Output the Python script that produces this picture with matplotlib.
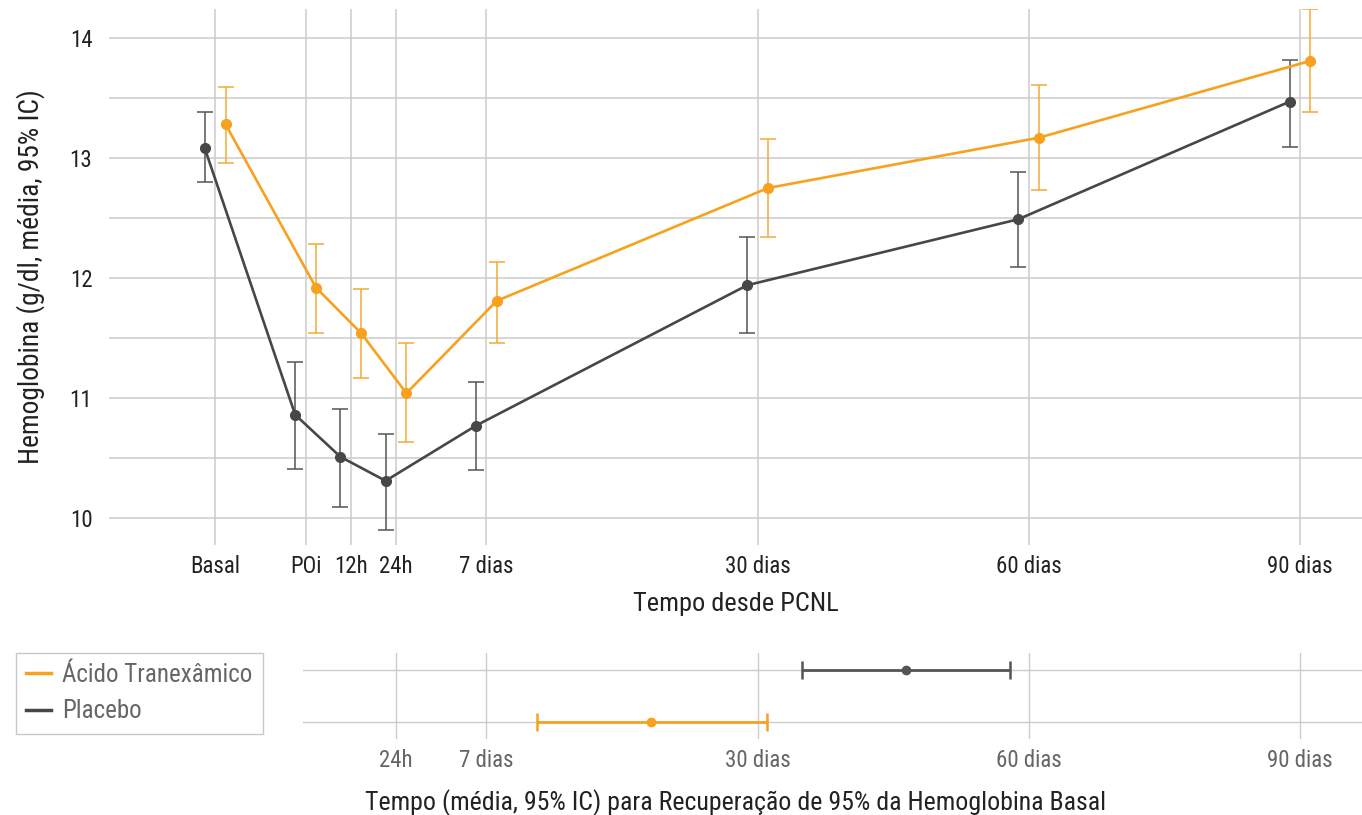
import numpy as np
import matplotlib
matplotlib.use("Agg")
import matplotlib.pyplot as plt
from matplotlib.lines import Line2D
from matplotlib import font_manager

names = {f.name for f in font_manager.fontManager.ttflist}
fam = [f for f in ["Liberation Sans Narrow", "Roboto Condensed", "Roboto", "DejaVu Sans"] if f in names]
plt.rcParams['font.family'] = fam

# ---- data ----
categories = ["Basal", "POi", "12h", "24h", "7 dias", "30 dias", "60 dias", "90 dias"]
cat_pos = [-2, -1, -0.5, 0, 1, 4, 7, 10]

placebo_mean = [13.08, 10.86, 10.51, 10.31, 10.77, 11.94, 12.49, 13.47]
placebo_lo = [12.80, 10.41, 10.09, 9.90, 10.40, 11.54, 12.09, 13.09]
placebo_hi = [13.38, 11.30, 10.91, 10.70, 11.13, 12.34, 12.88, 13.82]

txa_mean = [13.28, 11.92, 11.54, 11.04, 11.81, 12.75, 13.17, 13.81]
txa_lo = [12.96, 11.54, 11.17, 10.63, 11.46, 12.34, 12.73, 13.38]
txa_hi = [13.59, 12.28, 11.91, 11.46, 12.13, 13.16, 13.61, 14.24]

# recovery time (days): mean, lo, hi
rec_groups = ["Ácido Tranexâmico", "Placebo"]
rec_mean = [21.0, 46.4]
rec_lo = [11.3, 34.9]
rec_hi = [31.0, 57.9]

bottom_ticks_days = [1, 7, 30, 60, 90]
bottom_tick_labels = ["24h", "7 dias", "30 dias", "60 dias", "90 dias"]
day_knots = [1, 7, 30, 60, 90]
pos_knots = [0, 1, 4, 7, 10]

ORANGE = "#F7A11E"
ORANGE_EB = "#F5A935"
DARK = "#474747"
DARK_EB = "#555555"
GRID = "#cccccc"

fig = plt.figure(figsize=(13.62, 8.15), dpi=100)

W, H = 1362, 815
def rect(l, t, r, b):
    return [l / W, 1 - b / H, (r - l) / W, (b - t) / H]

ax = fig.add_axes(rect(109, 9, 1362, 545))
pxu = 90.4
ax.set_xlim((109 - 396) / pxu, (1362 - 396) / pxu)
ax.set_ylim(9.775, 14.242)

dodge = 0.115
xp = np.array(cat_pos) - dodge
xt = np.array(cat_pos) + dodge

for x, m, lo, hi, c, ce in [(xp, placebo_mean, placebo_lo, placebo_hi, DARK, DARK_EB),
                            (xt, txa_mean, txa_lo, txa_hi, ORANGE, ORANGE_EB)]:
    m = np.array(m)
    yerr = [m - np.array(lo), np.array(hi) - m]
    ax.errorbar(x, m, yerr=yerr, fmt='none', ecolor=ce, elinewidth=1.1,
                capsize=6, capthick=1.1, zorder=3)
    ax.plot(x, m, color=c, lw=1.9, marker='o', ms=7, zorder=4)

ax.set_xticks(cat_pos)
ax.set_xticklabels(categories)
ax.set_yticks([10, 11, 12, 13, 14])
ax.set_yticks(np.arange(10.5, 14.0, 1.0), minor=True)
ax.grid(True, which='major', color=GRID, lw=1.1, zorder=0)
ax.grid(True, which='minor', axis='y', color=GRID, lw=1.1, zorder=0)
ax.tick_params(which='both', length=0, labelsize=16.5, colors="#222222", pad=7)
ax.tick_params(axis='y', pad=12)
for s in ax.spines.values():
    s.set_visible(False)
ax.set_axisbelow(True)
ax.set_ylabel("Hemoglobina (g/dl, média, 95% IC)", fontsize=19.8, color="#222222", labelpad=18)
ax.set_xlabel("Tempo desde PCNL", fontsize=19, color="#222222", labelpad=10)

# bottom panel
ax2 = fig.add_axes(rect(303, 653, 1362, 739))
ax2.set_xlim((303 - 396) / pxu, (1362 - 396) / pxu)
ax2.set_ylim(-0.33, 1.33)
to_pos = lambda d: np.interp(d, day_knots, pos_knots)
for i, cm in enumerate([ORANGE, DARK_EB]):
    m = to_pos(rec_mean[i])
    lo = to_pos(rec_lo[i])
    hi = to_pos(rec_hi[i])
    ax2.errorbar([m], [i], xerr=[[m - lo], [hi - m]], fmt='o', color=cm, ms=6,
                 ecolor=cm, elinewidth=2, capsize=6.5, capthick=1.8, zorder=3)
ax2.set_yticks([0, 1])
ax2.set_yticklabels([])
ax2.set_xticks(to_pos(bottom_ticks_days))
ax2.set_xticklabels(bottom_tick_labels)
ax2.grid(True, color=GRID, lw=1.0, zorder=0)
ax2.set_axisbelow(True)
ax2.tick_params(length=0, labelsize=16.5, colors="#666666", pad=7)
for s in ax2.spines.values():
    s.set_visible(False)

fig.text(736 / W, 1 - 803 / H, "Tempo (média, 95% IC) para Recuperação de 95% da Hemoglobina Basal",
         ha='center', va='center', fontsize=18.6, color="#222222")

handles = [Line2D([], [], color=ORANGE, lw=2.5), Line2D([], [], color=DARK, lw=2.5)]
leg = fig.legend(handles, rec_groups, loc='upper left',
                 bbox_to_anchor=(16 / W, 1 - 653 / H), frameon=True, fancybox=False,
                 fontsize=18, handlelength=1.0, handletextpad=0.45, labelspacing=0.5,
                 borderpad=0.4, borderaxespad=0)
leg.get_frame().set_edgecolor("#bbbbbb")
leg.get_frame().set_linewidth(1.0)
for t in leg.get_texts():
    t.set_color("#666666")

fig.savefig("out.png", dpi=100)
